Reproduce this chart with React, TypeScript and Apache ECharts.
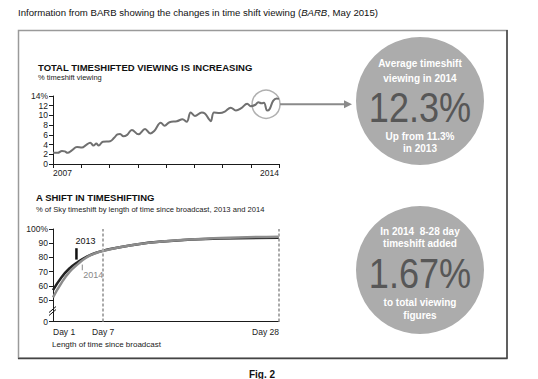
import React, { useEffect, useRef } from "react";
import * as echarts from "echarts";

// Top chart: % timeshift viewing by month since Jan 2007
const trendMonths = [0, 2, 3.8, 5, 6.2, 8, 10.2, 12.3, 14, 15.8, 17.2, 18.4, 19.4, 21.2, 24.3, 26, 27.4, 28.5, 29.9, 31.5, 33.5, 36.3, 39.1, 41.3, 43, 45.8, 47.4, 49.5, 52.6, 55, 56.8, 58.5, 60.3, 63.2, 64.5, 66, 67, 68.4, 70.9, 73, 75.5, 77.7, 80, 82.5, 84, 86, 87.2, 88.6, 89.6, 91, 92, 93.5, 95, 96];
const trendValues = [2.3, 2.3, 2.7, 2.6, 2.3, 2.8, 3.5, 3.4, 3.9, 4.4, 3.8, 4.2, 3.8, 4.6, 4.7, 5.4, 6.1, 6.2, 5.7, 6.0, 7.0, 6.1, 7.2, 6.3, 6.8, 8.5, 7.9, 8.6, 8.8, 9.2, 8.7, 10.6, 9.9, 10.6, 10.4, 9.4, 8.8, 10.6, 10.5, 10.8, 11.6, 11.0, 11.5, 12.4, 11.9, 12.2, 12.7, 12.5, 12.6, 11.0, 11.3, 13.0, 13.5, 13.4];
const topXTicks = [0, 12, 24, 36, 48, 60, 72, 84, 96];
const topXLabels = ["2007", "", "", "", "", "", "", "", "2014"];

// Bottom chart: % of Sky timeshift by days since broadcast
const shiftDays = [1, 2, 3, 4, 5, 6, 7, 10, 14, 21, 28];
const shift2013 = [57, 66, 72.5, 77, 80.5, 83, 84.8, 88.3, 91.2, 93.3, 93.8];
const shift2014 = [52, 62, 70, 75.5, 80, 82.8, 84.6, 88.2, 91.3, 93.6, 94.6];
const bottomYTicks = [35, 50, 60, 70, 80, 90, 100];
const bottomYLabels = ["0", "50", "60", "70", "80", "90", "100%"];
const bottomXTicks = [1, 7, 28];
const dashedDays = [7, 28];

const FONT = "Liberation Sans, Arial, sans-serif";

export default function App() {
  const ref = useRef<HTMLDivElement>(null);
  useEffect(() => {
    document.body.style.margin = "0";
    const chart = echarts.init(ref.current!, null, { renderer: "svg" });
    const axisLineStyle = { color: "#1a1a1a", width: 1 };
    const lblStyle = { fontFamily: FONT, fontSize: 8.5, color: "#222" };
    chart.setOption({
      animation: false,
      backgroundColor: "#fff",
      grid: [
        { left: 53, top: 96, width: 226, height: 68 },
        { left: 53, top: 229, width: 226, height: 92.5 },
      ],
      xAxis: [
        {
          gridIndex: 0, type: "value", min: 0, max: 96, interval: 12,
          axisLine: { lineStyle: axisLineStyle },
          axisTick: { show: true, length: 4, lineStyle: axisLineStyle, customValues: topXTicks },
          splitLine: { show: false },
          axisLabel: {
            ...lblStyle, margin: 4, customValues: [topXTicks[0], topXTicks[topXTicks.length - 1]],
            formatter: (v: number) => topXLabels[topXTicks.indexOf(v)] ?? "",
            alignMinLabel: "left", alignMaxLabel: "right",
          },
        },
        {
          gridIndex: 1, type: "value", min: 1, max: 28,
          axisLine: { lineStyle: axisLineStyle },
          axisTick: { show: false },
          splitLine: { show: false },
          axisLabel: {
            ...lblStyle, margin: 6, customValues: bottomXTicks,
            formatter: (v: number) => "Day " + v,
            alignMinLabel: "left", alignMaxLabel: "right",
          },
        },
      ],
      yAxis: [
        {
          gridIndex: 0, type: "value", min: 0, max: 14, interval: 2,
          axisLine: { show: true, lineStyle: axisLineStyle },
          axisTick: { show: true, length: 4, lineStyle: axisLineStyle },
          splitLine: { show: false },
          axisLabel: { ...lblStyle, margin: 5, formatter: (v: number) => (v === 14 ? "14%" : String(v)) },
        },
        {
          gridIndex: 1, type: "value", min: 35, max: 100,
          axisLine: { show: true, lineStyle: axisLineStyle },
          axisTick: { show: true, length: 4, lineStyle: axisLineStyle, customValues: bottomYTicks },
          splitLine: { show: false },
          axisLabel: {
            ...lblStyle, margin: 5, customValues: bottomYTicks,
            formatter: (v: number) => bottomYLabels[bottomYTicks.indexOf(v)] ?? "",
          },
        },
      ],
      series: [
        {
          type: "line", xAxisIndex: 0, yAxisIndex: 0, showSymbol: false, smooth: 0.4,
          data: trendMonths.map((m, i) => [m, trendValues[i]]),
          lineStyle: { color: "#707070", width: 2 },
        },
        {
          type: "line", xAxisIndex: 1, yAxisIndex: 1, showSymbol: false, smooth: 0.5,
          data: shiftDays.map((d, i) => [d, shift2013[i]]),
          lineStyle: { color: "#222", width: 2.5 },
          markLine: {
            silent: true, symbol: "none", label: { show: false },
            lineStyle: { color: "#aaa", width: 2, type: [3, 2] },
            data: dashedDays.map((d) => ({ xAxis: d })),
          },
        },
        {
          type: "line", xAxisIndex: 1, yAxisIndex: 1, showSymbol: false, smooth: 0.5,
          data: shiftDays.map((d, i) => [d, shift2014[i]]),
          lineStyle: { color: "#8c8c8c", width: 2.5 },
        },
      ],
    });

    const p0 = (x: number, y: number) => chart.convertToPixel({ seriesIndex: 0 }, [x, y]) as number[];
    const p1 = (x: number, y: number) => chart.convertToPixel({ seriesIndex: 1 }, [x, y]) as number[];
    const hc = p0(90.5, 12.3);
    const hr = 14;
    const c1 = [420, 101];
    const c2 = [420, 270];
    const R = 64;
    const arrowEnd = c1[0] - R - 4;
    const brk = p1(1, 42);
    const t13 = p1(3.8, 86.5);
    const t13b = p1(3.8, 78.5);
    const t14 = p1(4.5, 75);
    const t14b = p1(4.5, 71);
    const white = { fill: "#fff", font: `bold 10px ${FONT}`, textAlign: "center", textVerticalAlign: "middle" };
    const bigNum = { fill: "#575757", font: `42px ${FONT}`, textAlign: "center", textVerticalAlign: "middle" };

    chart.setOption({
      graphic: [
        {
          type: "text", left: 18, top: 7,
          style: {
            text: "{a|Information from BARB showing the changes in time shift viewing (}{i|BARB}{a|, May 2015)}",
            rich: {
              a: { fontFamily: FONT, fontSize: 9.6, fill: "#111" },
              i: { fontFamily: FONT, fontSize: 9.6, fontStyle: "italic", fill: "#111" },
            },
          },
        },
        { type: "rect", shape: { x: 18.5, y: 30.5, width: 488.5, height: 327.5 }, style: { fill: "none", stroke: "#9a9a9a", lineWidth: 1.5 } },
        { type: "line", shape: { x1: 507, y1: 30, x2: 507, y2: 358.5 }, style: { stroke: "#444", lineWidth: 1.5 } },
        { type: "line", shape: { x1: 18, y1: 358.5, x2: 507.5, y2: 358.5 }, style: { stroke: "#444", lineWidth: 1.5 } },
        { type: "text", x: 262, y: 374, style: { text: "Fig. 2", fill: "#111", font: `bold 10px ${FONT}`, textAlign: "center", textVerticalAlign: "middle" } },

        { type: "text", x: 38, y: 67, style: { text: "TOTAL TIMESHIFTED VIEWING IS INCREASING", fill: "#111", font: `bold 9.5px ${FONT}`, textVerticalAlign: "middle" } },
        { type: "text", x: 38, y: 77, style: { text: "% timeshift viewing", fill: "#222", font: `7.5px ${FONT}`, textVerticalAlign: "middle" } },
        { type: "text", x: 36, y: 197, style: { text: "A SHIFT IN TIMESHIFTING", fill: "#111", font: `bold 9.5px ${FONT}`, textVerticalAlign: "middle" } },
        { type: "text", x: 36, y: 209, style: { text: "% of Sky timeshift by length of time since broadcast, 2013 and 2014", fill: "#222", font: `7.6px ${FONT}`, textVerticalAlign: "middle" } },
        { type: "text", x: 52, y: 344, style: { text: "Length of time since broadcast", fill: "#222", font: `8px ${FONT}`, textVerticalAlign: "middle" } },

        { type: "circle", shape: { cx: hc[0], cy: hc[1], r: hr }, style: { fill: "none", stroke: "#b0b0b0", lineWidth: 1.5 } },
        { type: "line", shape: { x1: hc[0] + hr, y1: hc[1], x2: arrowEnd - 4, y2: hc[1] }, style: { stroke: "#8a8a8a", lineWidth: 2 } },
        { type: "polygon", shape: { points: [[arrowEnd - 8, hc[1] - 4], [arrowEnd, hc[1]], [arrowEnd - 8, hc[1] + 4]] }, style: { fill: "#8a8a8a" } },

        { type: "circle", shape: { cx: c1[0], cy: c1[1], r: R }, style: { fill: "#acacac" } },
        { type: "text", x: c1[0], y: c1[1] - 38, style: { ...white, text: "Average timeshift" } },
        { type: "text", x: c1[0], y: c1[1] - 23, style: { ...white, text: "viewing in 2014" } },
        { type: "text", x: c1[0], y: c1[1] + 7, scaleX: 0.86, style: { ...bigNum, text: "12.3%" } },
        { type: "text", x: c1[0], y: c1[1] + 35, style: { ...white, text: "Up from 11.3%" } },
        { type: "text", x: c1[0], y: c1[1] + 47, style: { ...white, text: "in 2013" } },

        { type: "circle", shape: { cx: c2[0], cy: c2[1], r: R }, style: { fill: "#acacac" } },
        { type: "text", x: c2[0], y: c2[1] - 39, style: { ...white, text: "In 2014  8-28 day" } },
        { type: "text", x: c2[0], y: c2[1] - 27, style: { ...white, text: "timeshift added" } },
        { type: "text", x: c2[0], y: c2[1] + 4, scaleX: 0.86, style: { ...bigNum, text: "1.67%" } },
        { type: "text", x: c2[0], y: c2[1] + 32, style: { ...white, text: "to total viewing" } },
        { type: "text", x: c2[0], y: c2[1] + 45, style: { ...white, text: "figures" } },

        { type: "text", x: t13[0] - 1, y: t13[1] - 7, style: { text: "2013", fill: "#111", font: `9px ${FONT}`, textVerticalAlign: "middle" } },
        { type: "line", shape: { x1: t13[0], y1: t13[1], x2: t13b[0], y2: t13b[1] }, style: { stroke: "#111", lineWidth: 2.5 } },
        { type: "text", x: t14[0] + 1, y: t14b[1] + 5, style: { text: "2014", fill: "#888", font: `9px ${FONT}`, textVerticalAlign: "middle" } },
        { type: "line", shape: { x1: t14[0], y1: t14[1], x2: t14b[0], y2: t14b[1] }, style: { stroke: "#888", lineWidth: 1 } },

        { type: "rect", shape: { x: brk[0] - 2, y: brk[1] - 3, width: 4, height: 4 }, style: { fill: "#fff" } },
        { type: "line", shape: { x1: brk[0] - 4, y1: brk[1] + 1, x2: brk[0] + 3, y2: brk[1] - 5 }, style: { stroke: "#111", lineWidth: 1 } },
        { type: "line", shape: { x1: brk[0] - 4, y1: brk[1] + 4, x2: brk[0] + 3, y2: brk[1] - 2 }, style: { stroke: "#111", lineWidth: 1 } },
      ],
    });
    return () => chart.dispose();
  }, []);
  return <div ref={ref} style={{ width: 538, height: 379 }} />;
}
